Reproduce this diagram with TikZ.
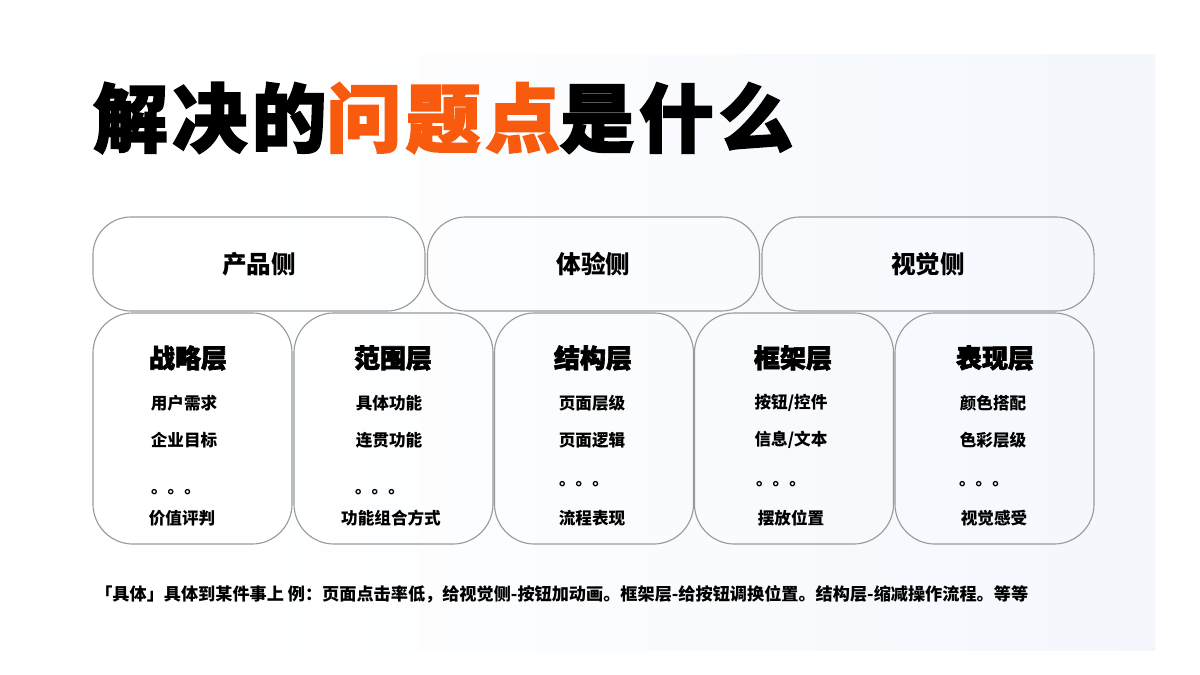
\documentclass[tikz,border=0pt]{standalone}
\usepackage{fontspec}
\setmainfont{Noto Sans CJK SC}
\newfontfamily\heavyfont{Noto Sans CJK SC}[BoldFeatures={FakeBold=2.5}]
\usetikzlibrary{shadings}
\definecolor{hotorange}{HTML}{F95B0E}
\definecolor{boxgray}{HTML}{9A9A9A}
\definecolor{paleblue}{HTML}{F3F7FC}
\tikzset{
  sidebox/.style={draw=boxgray, line width=0.8pt, rounded corners=0.95cm, minimum width=8.3cm, minimum height=2.35cm, inner sep=0pt},
  layerbox/.style={draw=boxgray, line width=0.8pt, rounded corners=1.0cm, minimum width=4.975cm, minimum height=5.775cm, inner sep=0pt},
  sidelabel/.style={font=\fontsize{17.5}{20}\selectfont\bfseries},
  layertitle/.style={font=\heavyfont\fontsize{18.5}{22}\selectfont\bfseries},
  layeritem/.style={font=\fontsize{11.8}{14}\selectfont\bfseries},
}
\begin{document}
\begin{tikzpicture}[x=0.025cm, y=-0.025cm]
			%%%%% START %%%%%
			\useasboundingbox (0, 0) rectangle (1200, 675);
			\fill[white] (0, 0) rectangle (1200, 675);
			\shade[left color=white, right color=paleblue] (250, 55) rectangle (1155, 650);
			
			% title
			\node[anchor=west, inner sep=0pt, font=\heavyfont\fontsize{53}{60}\selectfont\bfseries\addfontfeature{LetterSpace=6.5}] (title) at (93, 118) {解决的\textcolor{hotorange}{问题点}是什么};
			
			% the three sides
			\node[sidebox] (product) at (259, 264) {};
			\node[sidebox] (experience) at (593.5, 264) {};
			\node[sidebox] (visual) at (928, 264) {};
			\node[sidelabel] (productlabel) at (259, 264) {产品侧};
			\node[sidelabel] (experiencelabel) at (593.5, 264) {体验侧};
			\node[sidelabel] (visuallabel) at (928, 264) {视觉侧};
			
			% the five layers
			\node[layerbox] (strategy) at (192.5, 428.5) {};
			\node[layerbox] (scope) at (393.5, 428.5) {};
			\node[layerbox] (structure) at (594, 428.5) {};
			\node[layerbox] (skeleton) at (794, 428.5) {};
			\node[layerbox] (surface) at (994.5, 428.5) {};
			
			\node[layertitle] (strategytitle) at (188, 358) {战略层};
			\node[layeritem] (strategya) at (184, 403) {用户需求};
			\node[layeritem] (strategyb) at (184, 440) {企业目标};
			\node[layeritem, anchor=base] (strategydots) at (176, 493) {。。。};
			\node[layeritem] (strategyc) at (182, 518) {价值评判};
			
			\node[layertitle] (scopetitle) at (393, 358) {范围层};
			\node[layeritem] (scopea) at (389, 403) {具体功能};
			\node[layeritem] (scopeb) at (389, 440) {连贯功能};
			\node[layeritem, anchor=base] (scopedots) at (380, 493) {。。。};
			\node[layeritem] (scopec) at (391, 518) {功能组合方式};
			
			\node[layertitle] (structuretitle) at (593, 358) {结构层};
			\node[layeritem] (structurea) at (592, 403) {页面层级};
			\node[layeritem] (structureb) at (592, 440) {页面逻辑};
			\node[layeritem, anchor=base] (structuredots) at (584, 485) {。。。};
			\node[layeritem] (structurec) at (592, 518) {流程表现};
			
			\node[layertitle] (skeletontitle) at (793, 358) {框架层};
			\node[layeritem] (skeletona) at (791, 403) {按钮/控件};
			\node[layeritem] (skeletonb) at (791, 440) {信息/文本};
			\node[layeritem, anchor=base] (skeletondots) at (781, 485) {。。。};
			\node[layeritem] (skeletonc) at (791, 518) {摆放位置};
			
			\node[layertitle] (surfacetitle) at (995, 358) {表现层};
			\node[layeritem] (surfacea) at (993, 403) {颜色搭配};
			\node[layeritem] (surfaceb) at (993, 440) {色彩层级};
			\node[layeritem, anchor=base] (surfacedots) at (984, 485) {。。。};
			\node[layeritem] (surfacec) at (994, 518) {视觉感受};
			
			% note
			\node[layeritem, anchor=west, inner sep=0pt, font=\fontsize{12.2}{14}\selectfont\bfseries] (note) at (95, 594) {「具体」具体到某件事上 例：页面点击率低，给视觉侧-按钮加动画。框架层-给按钮调换位置。结构层-缩减操作流程。等等};
			%%%%% END %%%%%
\end{tikzpicture}
\end{document}
